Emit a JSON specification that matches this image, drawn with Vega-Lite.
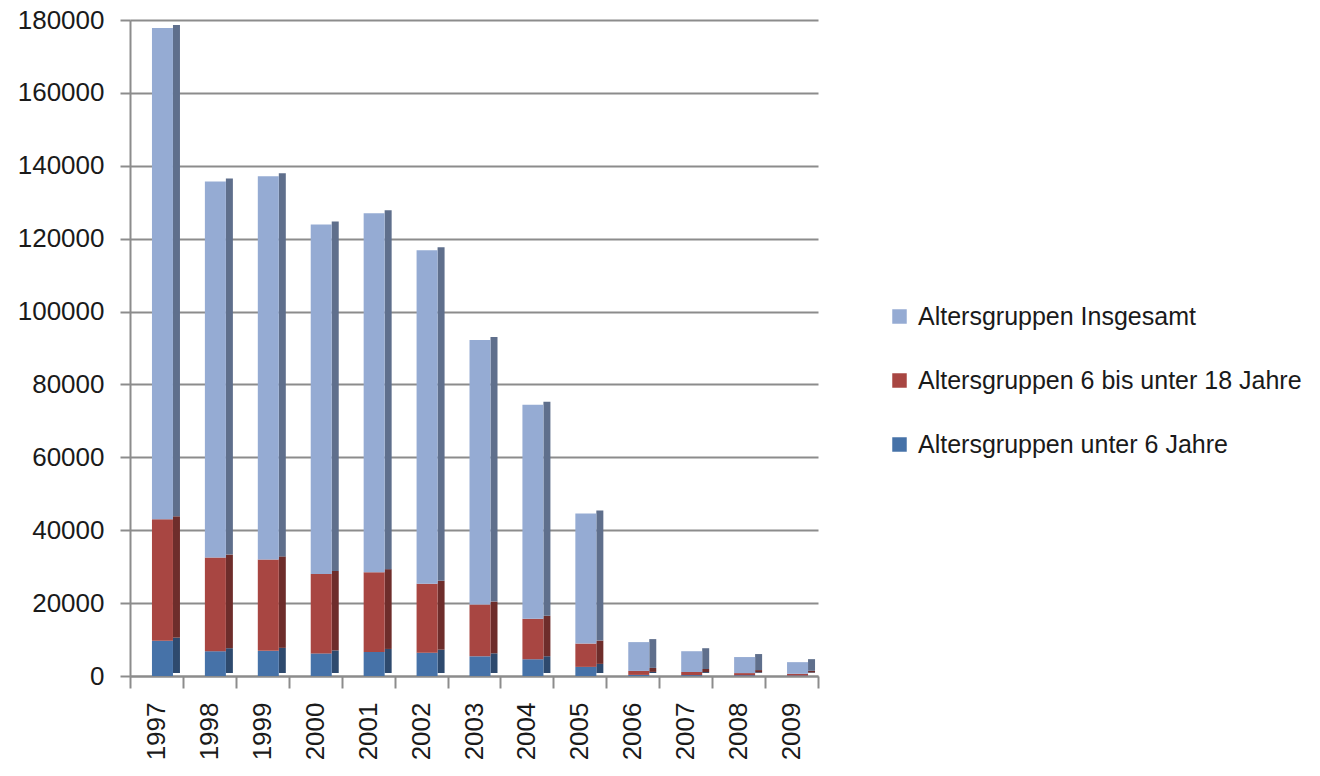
{
  "$schema": "https://vega.github.io/schema/vega-lite/v6.json",
  "autosize": "none",
  "width": 688,
  "height": 656,
  "padding": {"left": 130, "top": 20, "right": 502, "bottom": 100},
  "background": "white",
  "config": {
    "view": {"stroke": null},
    "font": "Liberation Sans",
    "axis": {"labelFont": "Liberation Sans", "labelColor": "#1a1a1a", "domainColor": "#8c8c8c", "tickColor": "#8c8c8c", "domainWidth": 2, "tickWidth": 2, "gridColor": "#8c8c8c", "gridWidth": 2}
  },
  "data": {
    "values": [
      {"Jahr": "1997", "Gruppe": "Altersgruppen unter 6 Jahre", "Wert": 9700, "k": 1},
      {"Jahr": "1997", "Gruppe": "Altersgruppen 6 bis unter 18 Jahre", "Wert": 33300, "k": 2},
      {"Jahr": "1997", "Gruppe": "Altersgruppen Insgesamt", "Wert": 134800, "k": 3},
      {"Jahr": "1998", "Gruppe": "Altersgruppen unter 6 Jahre", "Wert": 6800, "k": 1},
      {"Jahr": "1998", "Gruppe": "Altersgruppen 6 bis unter 18 Jahre", "Wert": 25700, "k": 2},
      {"Jahr": "1998", "Gruppe": "Altersgruppen Insgesamt", "Wert": 103200, "k": 3},
      {"Jahr": "1999", "Gruppe": "Altersgruppen unter 6 Jahre", "Wert": 6900, "k": 1},
      {"Jahr": "1999", "Gruppe": "Altersgruppen 6 bis unter 18 Jahre", "Wert": 25100, "k": 2},
      {"Jahr": "1999", "Gruppe": "Altersgruppen Insgesamt", "Wert": 105100, "k": 3},
      {"Jahr": "2000", "Gruppe": "Altersgruppen unter 6 Jahre", "Wert": 6200, "k": 1},
      {"Jahr": "2000", "Gruppe": "Altersgruppen 6 bis unter 18 Jahre", "Wert": 21800, "k": 2},
      {"Jahr": "2000", "Gruppe": "Altersgruppen Insgesamt", "Wert": 95900, "k": 3},
      {"Jahr": "2001", "Gruppe": "Altersgruppen unter 6 Jahre", "Wert": 6600, "k": 1},
      {"Jahr": "2001", "Gruppe": "Altersgruppen 6 bis unter 18 Jahre", "Wert": 21900, "k": 2},
      {"Jahr": "2001", "Gruppe": "Altersgruppen Insgesamt", "Wert": 98500, "k": 3},
      {"Jahr": "2002", "Gruppe": "Altersgruppen unter 6 Jahre", "Wert": 6400, "k": 1},
      {"Jahr": "2002", "Gruppe": "Altersgruppen 6 bis unter 18 Jahre", "Wert": 18900, "k": 2},
      {"Jahr": "2002", "Gruppe": "Altersgruppen Insgesamt", "Wert": 91500, "k": 3},
      {"Jahr": "2003", "Gruppe": "Altersgruppen unter 6 Jahre", "Wert": 5400, "k": 1},
      {"Jahr": "2003", "Gruppe": "Altersgruppen 6 bis unter 18 Jahre", "Wert": 14200, "k": 2},
      {"Jahr": "2003", "Gruppe": "Altersgruppen Insgesamt", "Wert": 72600, "k": 3},
      {"Jahr": "2004", "Gruppe": "Altersgruppen unter 6 Jahre", "Wert": 4600, "k": 1},
      {"Jahr": "2004", "Gruppe": "Altersgruppen 6 bis unter 18 Jahre", "Wert": 11100, "k": 2},
      {"Jahr": "2004", "Gruppe": "Altersgruppen Insgesamt", "Wert": 58700, "k": 3},
      {"Jahr": "2005", "Gruppe": "Altersgruppen unter 6 Jahre", "Wert": 2500, "k": 1},
      {"Jahr": "2005", "Gruppe": "Altersgruppen 6 bis unter 18 Jahre", "Wert": 6400, "k": 2},
      {"Jahr": "2005", "Gruppe": "Altersgruppen Insgesamt", "Wert": 35700, "k": 3},
      {"Jahr": "2006", "Gruppe": "Altersgruppen unter 6 Jahre", "Wert": 300, "k": 1},
      {"Jahr": "2006", "Gruppe": "Altersgruppen 6 bis unter 18 Jahre", "Wert": 1100, "k": 2},
      {"Jahr": "2006", "Gruppe": "Altersgruppen Insgesamt", "Wert": 7900, "k": 3},
      {"Jahr": "2007", "Gruppe": "Altersgruppen unter 6 Jahre", "Wert": 250, "k": 1},
      {"Jahr": "2007", "Gruppe": "Altersgruppen 6 bis unter 18 Jahre", "Wert": 850, "k": 2},
      {"Jahr": "2007", "Gruppe": "Altersgruppen Insgesamt", "Wert": 5700, "k": 3},
      {"Jahr": "2008", "Gruppe": "Altersgruppen unter 6 Jahre", "Wert": 200, "k": 1},
      {"Jahr": "2008", "Gruppe": "Altersgruppen 6 bis unter 18 Jahre", "Wert": 600, "k": 2},
      {"Jahr": "2008", "Gruppe": "Altersgruppen Insgesamt", "Wert": 4400, "k": 3},
      {"Jahr": "2009", "Gruppe": "Altersgruppen unter 6 Jahre", "Wert": 150, "k": 1},
      {"Jahr": "2009", "Gruppe": "Altersgruppen 6 bis unter 18 Jahre", "Wert": 450, "k": 2},
      {"Jahr": "2009", "Gruppe": "Altersgruppen Insgesamt", "Wert": 3200, "k": 3}
    ]
  },
  "encoding": {
    "x": {
      "field": "Jahr", "type": "nominal",
      "scale": {"paddingInner": 0, "paddingOuter": 0},
      "axis": {"title": null, "labelAngle": -90, "labelFontSize": 26, "labelPadding": 14, "tickSize": 12, "tickBand": "extent", "labelBaseline": "middle", "labelAlign": "right"}
    },
    "y": {
      "field": "Wert", "type": "quantitative", "aggregate": "sum", "stack": "zero",
      "scale": {"domain": [0, 180000], "nice": false},
      "axis": {"title": null, "values": [0, 20000, 40000, 60000, 80000, 100000, 120000, 140000, 160000, 180000], "labelFontSize": 26, "tickSize": 10, "labelPadding": 16, "grid": true, "format": "d"}
    },
    "order": {"field": "k", "type": "quantitative", "aggregate": "min"}
  },
  "layer": [
    {
      "mark": {"type": "bar", "size": 7, "xOffset": 20, "yOffset": -3},
      "encoding": {
        "color": {
          "field": "Gruppe", "type": "nominal",
          "scale": {"domain": ["Altersgruppen Insgesamt", "Altersgruppen 6 bis unter 18 Jahre", "Altersgruppen unter 6 Jahre"], "range": ["#5f6f8c", "#6e2d2b", "#2e4a6e"]},
          "legend": null
        }
      }
    },
    {
      "mark": {"type": "bar", "size": 21, "xOffset": 6},
      "encoding": {
        "color": {
          "field": "Gruppe", "type": "nominal",
          "scale": {"domain": ["Altersgruppen Insgesamt", "Altersgruppen 6 bis unter 18 Jahre", "Altersgruppen unter 6 Jahre"], "range": ["#95abd3", "#a84642", "#4672a8"]},
          "legend": {"title": null, "orient": "none", "legendX": 757, "legendY": 284, "padding": 0, "symbolType": "square", "symbolSize": 210, "symbolStrokeWidth": 0, "labelFontSize": 25, "labelColor": "#1a1a1a", "labelFont": "Liberation Sans", "rowPadding": 38, "labelOffset": 6, "labelLimit": 600}
        }
      }
    }
  ],
  "resolve": {"scale": {"color": "independent"}, "legend": {"color": "independent"}}
}
